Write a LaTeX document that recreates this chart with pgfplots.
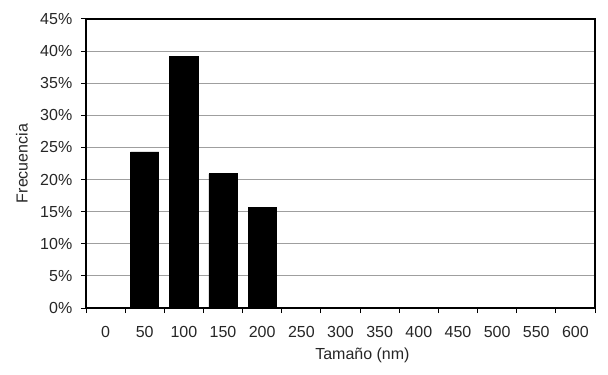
\documentclass[border=0pt]{standalone}
\usepackage{pgfplots}
\pgfplotsset{compat=1.18}
\usepackage{fontspec}
\setmainfont{Liberation Sans}
\begin{document}
\fontsize{8pt}{9.6pt}\selectfont
\begin{tikzpicture}
\begin{axis}[
  scale only axis,
  width=254.5pt, height=144.5pt,
  xmin=-0.5, xmax=12.5,
  ymin=0, ymax=45,
  xtick={0,...,12},
  xticklabels={0,50,100,150,200,250,300,350,400,450,500,550,600},
  minor xtick={-0.5,0.5,...,12.5},
  ytick={0,5,...,45},
  yticklabel={\pgfmathprintnumber{\tick}\%},
  /pgf/number format/assume math mode=true,
  xtick pos=bottom, ytick pos=left,
  tick align=outside,
  major tick length=2.5pt,
  minor tick length=2.5pt,
  x tick style={draw=none},
  minor x tick style={draw=black, line width=0.5pt},
  y tick style={draw=black, line width=0.5pt},
  ymajorgrids,
  major grid style={draw=gray!75, line width=0.6pt},
  axis line style={black, line width=0.6pt},
  tick label style={font=\fontsize{8pt}{9.6pt}\selectfont, text=black!85},
  xticklabel style={yshift=-4pt},
  yticklabel style={xshift=-1.5pt},
  label style={font=\fontsize{8pt}{9.6pt}\selectfont, text=black!85},
  xlabel={Tamaño (nm)},
  ylabel={Frecuencia},
  xlabel style={at={(axis description cs:0.543,0)}, anchor=center, yshift=-23.5pt},
  ylabel style={at={(axis description cs:-0.1257,0.5)}, anchor=center},
]
\addplot[ybar, bar width=0.72, fill=black, draw=black] coordinates {
  (1,24.3) (2,39.1) (3,20.9) (4,15.7)
};
\end{axis}
\path ([shift={(-43pt,-33pt)}]current axis.south west) rectangle ([shift={(6.5pt,9.5pt)}]current axis.north east);
\end{tikzpicture}
\end{document}
